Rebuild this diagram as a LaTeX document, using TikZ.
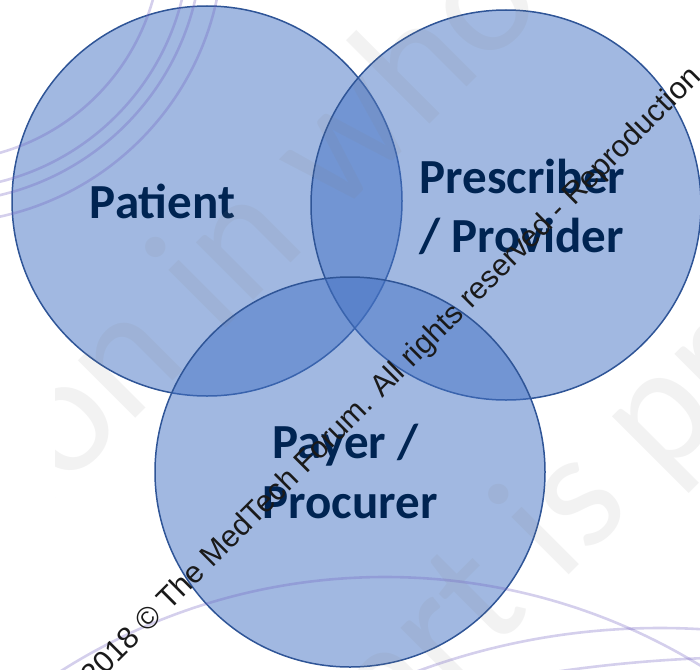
\documentclass[tikz,border=0pt]{standalone}
\usepackage{fontspec}
\setmainfont{Carlito}
\newfontfamily\notefont{Liberation Sans}
\definecolor{vennfill}{HTML}{4472C4}
\definecolor{vennedge}{HTML}{2F5597}
\definecolor{labelnavy}{RGB}{0,36,82}
\definecolor{ringlav}{RGB}{112,96,192}
\definecolor{wmgrey}{RGB}{128,128,128}
\definecolor{notegrey}{RGB}{26,26,26}
\tikzset{
  venn/.style={circle, minimum size=390pt, inner sep=0pt, outer sep=0pt,
    fill=vennfill, fill opacity=0.5, draw=vennedge, draw opacity=1, line width=1.5pt},
  vennlabel/.style={anchor=base, inner sep=0pt, text=labelnavy,
    font=\fontsize{49}{59}\selectfont\bfseries},
  bigmark/.style={anchor=base west, inner sep=0pt, rotate=45, text=wmgrey,
    text opacity=0.1, font=\fontsize{170}{200}\selectfont},
  ring/.style={draw=ringlav, draw opacity=0.3, line width=2.6pt},
  rights/.style={anchor=base west, inner sep=0pt, rotate=45, text=notegrey,
    font=\notefont\fontsize{30.5}{36}\selectfont}
}
\begin{document}
\begin{tikzpicture}[x=1pt,y=-1pt]
\useasboundingbox (0,0) rectangle (700,669);
\clip (0,0) rectangle (700,669);

% the three overlapping sets
\node[venn] (patient) at (207,201) {};
\node[venn] (prescriber) at (506,205) {};
\node[venn] (payer) at (350,472) {};

% set labels
\node[vennlabel] (lpatient) at (162.5,218) {Patient};
\node[vennlabel] (lpres1) at (522.5,193) {Prescriber};
\node[vennlabel] (lpres2) at (521.5,252) {/ Provider};
\node[vennlabel] (lpay1) at (345.5,458) {Payer /};
\node[vennlabel] (lpay2) at (350,518) {Procurer};

% large faint background lettering
\begin{scope}
  \clip (55,0) rectangle (700,669);
  \node[bigmark] (bg1) at (-3,557) {tion in whole};
  \node[bigmark] (bg2) at (212,932) {in part is prohibited};
\end{scope}

% lavender rings
\draw[ring] (-60,-60) circle[radius=221];
\draw[ring] (-60,-60) circle[radius=249];
\draw[ring] (-60,-60) circle[radius=262];
\draw[ring] (-60,-60) circle[radius=283];
\draw[ring] (385,1182) circle[radius=605];
\draw[ring] (660,1327) circle[radius=699];
\draw[ring] (760,2058) circle[radius=1401];

% copyright line
\node[rights] (note) at (93.5,687.5) {2018 © The MedTech Forum. All rights reserved - Reproduction};
\end{tikzpicture}
\end{document}
